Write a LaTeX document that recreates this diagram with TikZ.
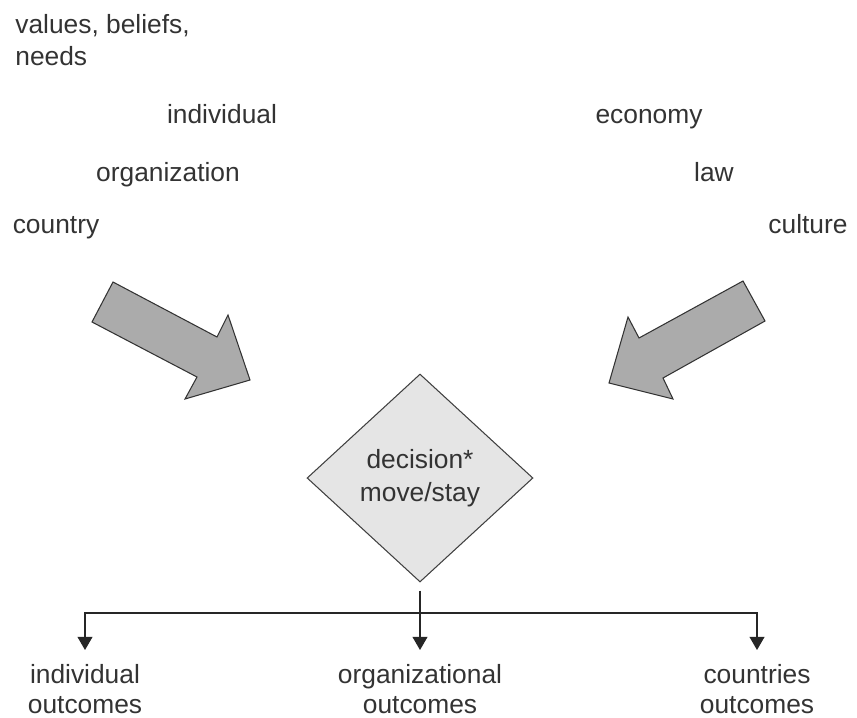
\documentclass[tikz,border=0pt]{standalone}
\usepackage{fontspec}
\setmainfont{Liberation Sans}
\usetikzlibrary{positioning,arrows.meta,shapes.geometric}

\begin{document}
\begin{tikzpicture}[
  x=0.02cm, y=-0.02cm,
  txt/.style={inner sep=0pt, text=black!80, font=\fontsize{15}{18}\selectfont},
  factor/.style={txt, anchor=base},
  outcome/.style={txt, align=center, anchor=north, inner xsep=0pt, inner ysep=8pt,
    font=\fontsize{15}{17}\selectfont},
  decide/.style={diamond, draw=black!75, fill=black!10, line width=0.6pt,
    minimum width=4.52cm, minimum height=4.16cm, inner sep=0pt, align=center,
    text=black!80, font=\fontsize{15}{19}\selectfont},
  bigarrow/.style={draw=black!80, fill=black!33, line width=0.6pt, line join=miter},
  flow/.style={draw=black!85, line width=0.7pt},
  >={Triangle[width=8.5pt,length=7.5pt]}
]
  \useasboundingbox (0,0) rectangle (857,717);

  % Personal drivers
  \node[txt, anchor=north west, align=left] (needs) at (15,14) {values, beliefs,\\needs};
  \node[factor] (ind)  at (222,123) {individual};
  \node[factor] (org)  at (168,181) {organization};
  \node[factor] (ctry) at (56,233)  {country};

  % Context
  \node[factor] (econ) at (649,123) {economy};
  \node[factor] (law)  at (714,181) {law};
  \node[factor] (cult) at (808,233) {culture};

  % Block arrows into the decision
  \draw[bigarrow] (113,282) -- (217,337) -- (228,315) -- (250,380)
    -- (185,399) -- (197,377) -- (92,322) -- cycle;
  \draw[bigarrow] (743,281) -- (639,338) -- (628,317) -- (609,383)
    -- (673,399) -- (663,378) -- (765,321) -- cycle;

  % Decision
  \node[decide] (dec) at (420,478) {decision*\\move/stay};

  % Outcomes
  \node[outcome] (o1) at (85,650)  {individual\\outcomes};
  \node[outcome] (o2) at (420,650) {organizational\\outcomes};
  \node[outcome] (o3) at (757,650) {countries\\outcomes};

  \coordinate (split) at (420,613);
  \draw[flow, ->, shorten <=0.16cm] (dec.south) -- (o2.north);
  \draw[flow, ->] (split) -| (o1.north);
  \draw[flow, ->] (split) -| (o3.north);
\end{tikzpicture}
\end{document}
